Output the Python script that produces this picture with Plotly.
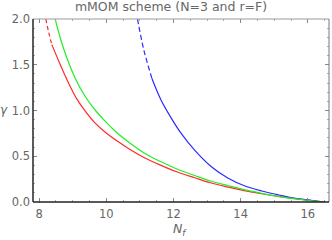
import plotly.graph_objects as go

# Red curve (dashed start, then solid)
red_nf_dash = [8.20, 8.29, 8.38]
red_g_dash = [2.00, 1.85, 1.72]
red_nf = [8.38, 8.61, 8.93, 9.15, 9.38, 9.65, 9.98, 10.35, 10.72, 11.15, 11.63, 12.1, 12.63, 13.1, 13.63, 14.1, 14.63, 15.1, 15.63, 16.05, 16.5]
red_g = [1.72, 1.52, 1.26, 1.11, 0.99, 0.87, 0.76, 0.66, 0.57, 0.48, 0.40, 0.33, 0.265, 0.21, 0.163, 0.125, 0.09, 0.062, 0.036, 0.018, 0.0]

# Green curve (solid)
green_nf = [8.48, 8.71, 9.08, 9.38, 9.68, 10.0, 10.31, 10.72, 11.15, 11.63, 12.1, 12.63, 13.1, 13.63, 14.1, 14.63, 15.1, 15.63, 16.05, 16.45]
green_g = [2.00, 1.70, 1.35, 1.15, 1.00, 0.87, 0.76, 0.64, 0.53, 0.44, 0.36, 0.29, 0.23, 0.178, 0.135, 0.095, 0.063, 0.034, 0.016, 0.0]

# Blue curve (dashed start, then solid)
blue_nf_dash = [10.93, 11.12, 11.36]
blue_g_dash = [2.00, 1.66, 1.35]
blue_nf = [11.36, 11.63, 11.93, 12.23, 12.63, 13.13, 13.63, 14.13, 14.63, 15.13, 15.63, 16.05, 16.48]
blue_g = [1.35, 1.115, 0.92, 0.75, 0.568, 0.386, 0.26, 0.175, 0.12, 0.077, 0.04, 0.02, 0.0]

x_ticks = [8, 10, 12, 14, 16]
y_ticks = [0.0, 0.5, 1.0, 1.5, 2.0]
y_tick_text = ["0.0", "0.5", "1.0", "1.5", "2.0"]

RED = "#ff2a2a"
GREEN = "#22ee22"
BLUE = "#2a2aff"
LW = 1.2

fig = go.Figure()
fig.add_trace(go.Scatter(x=red_nf, y=red_g, mode="lines", line=dict(color=RED, width=LW, shape="spline")))
fig.add_trace(go.Scatter(x=red_nf_dash, y=red_g_dash, mode="lines", line=dict(color=RED, width=LW, dash="4px,3px", shape="spline")))
fig.add_trace(go.Scatter(x=blue_nf, y=blue_g, mode="lines", line=dict(color=BLUE, width=LW, shape="spline")))
fig.add_trace(go.Scatter(x=blue_nf_dash, y=blue_g_dash, mode="lines", line=dict(color=BLUE, width=LW, dash="5px,3px", shape="spline")))
fig.add_trace(go.Scatter(x=green_nf, y=green_g, mode="lines", line=dict(color=GREEN, width=LW, shape="spline")))

FONT = "DejaVu Sans"
TICKCOL = "#666666"

fig.update_layout(
    width=332, height=240,
    margin=dict(l=33, r=3, t=19, b=38, autoexpand=False),
    paper_bgcolor="white", plot_bgcolor="white",
    showlegend=False,
    font=dict(family=FONT, size=11.5, color=TICKCOL),
    title=dict(text="mMOM scheme (N=3 and r=F)", x=0.515, xanchor="center", y=0.99, yanchor="top",
               font=dict(family=FONT, size=12.5, color=TICKCOL)),
)
fig.update_xaxes(
    range=[7.82, 16.63], tickmode="array", tickvals=x_ticks, ticktext=[str(v) for v in x_ticks],
    ticks="inside", ticklen=4, tickwidth=1, tickcolor="#888888",
    minor=dict(ticks="inside", ticklen=2, dtick=0.5, tickcolor="#aaaaaa"),
    showgrid=False, zeroline=False, showline=False, mirror="ticks", ticklabelstandoff=3,
)
fig.update_yaxes(
    range=[0, 2], tickmode="array", tickvals=y_ticks, ticktext=y_tick_text,
    ticks="inside", ticklen=4, tickwidth=1, tickcolor="#888888",
    minor=dict(ticks="inside", ticklen=2, dtick=0.1, tickcolor="#aaaaaa"),
    showgrid=False, zeroline=False, showline=False, mirror="ticks", ticklabelstandoff=2,
)
# frame
fig.add_shape(type="line", xref="paper", yref="paper", x0=0, x1=1, y0=1, y1=1, line=dict(color="#999999", width=1))
fig.add_shape(type="line", xref="paper", yref="paper", x0=1, x1=1, y0=0, y1=1, line=dict(color="#777777", width=1))
fig.add_shape(type="line", xref="paper", yref="paper", x0=0, x1=1, y0=0, y1=0, line=dict(color="#222222", width=1.6))
fig.add_shape(type="line", xref="paper", yref="paper", x0=0, x1=0, y0=0, y1=1, line=dict(color="#333333", width=1.6))

fig.add_annotation(text="<i>γ</i>", xref="paper", yref="paper", x=-0.098, y=0.503, xanchor="center", yanchor="middle",
                   showarrow=False, font=dict(family=FONT, size=12, color=TICKCOL))
fig.add_annotation(text="<i>N</i><sub><i>f</i></sub>", xref="paper", yref="paper", x=0.497, y=-0.148,
                   xanchor="center", yanchor="middle", showarrow=False, font=dict(family=FONT, size=12.5, color=TICKCOL))

fig.write_html("out.html", config={"displayModeBar": False}, post_script="document.body.style.margin='0';")
